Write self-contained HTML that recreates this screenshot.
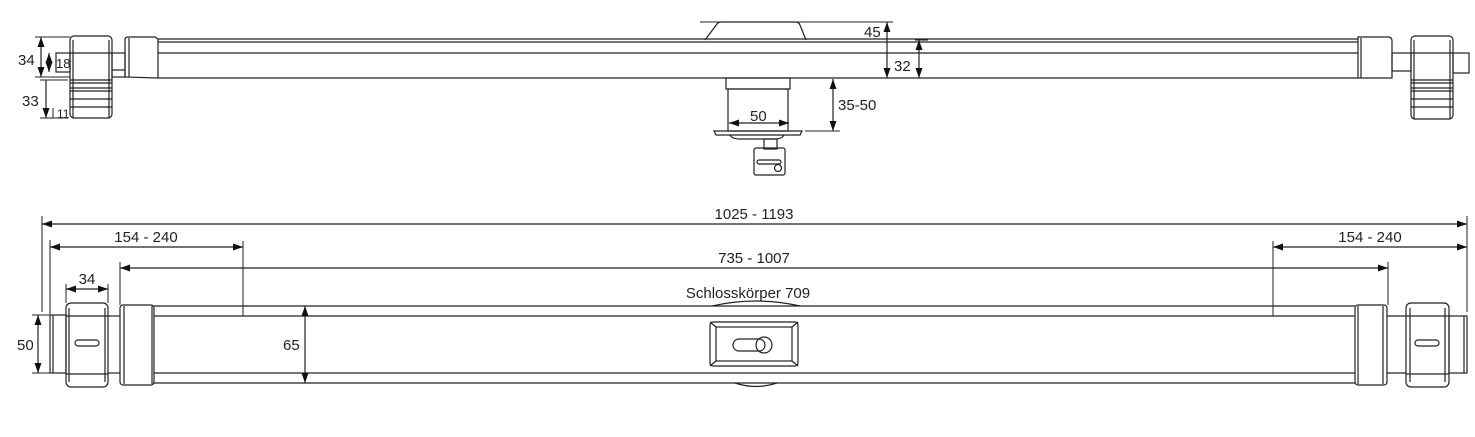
<!DOCTYPE html>
<html><head><meta charset="utf-8"><style>
html,body{margin:0;padding:0;background:#fff;}
svg{display:block}
text{font-family:"Liberation Sans",sans-serif;font-size:15px;fill:#222}
</style></head><body>
<svg width="1475" height="437" viewBox="0 0 1475 437" xmlns="http://www.w3.org/2000/svg">
<defs>
<marker id="a" viewBox="0 0 10 10" refX="10" refY="5" markerWidth="10" markerHeight="10" markerUnits="userSpaceOnUse" orient="auto-start-reverse"><path d="M0,1.5L10,5L0,8.5z" fill="#111"/></marker>
</defs>
<g fill="none" stroke="#222" stroke-width="1.2">
<!-- TOP VIEW -->
<!-- rod -->
<line x1="158" y1="39" x2="1358" y2="39"/><line x1="158" y1="42" x2="1358" y2="42"/>
<line x1="158" y1="53" x2="1358" y2="53"/><line x1="158" y1="78" x2="1358" y2="78"/>
<!-- center hump -->
<path d="M705,40 L717,24 Q718,22 722,22 L795,22 Q799,22 800,25 L806,40"/>
<!-- left end -->
<rect x="70" y="36" width="42" height="82" rx="4"/>
<line x1="73" y1="40" x2="73" y2="118"/><line x1="109" y1="40" x2="109" y2="118"/>
<line x1="70" y1="53" x2="112" y2="53"/>
<line x1="70" y1="80" x2="112" y2="80"/><line x1="70" y1="83" x2="112" y2="83"/><line x1="70" y1="88" x2="112" y2="88"/><line x1="70" y1="91" x2="112" y2="91"/><line x1="70" y1="99" x2="112" y2="99"/><line x1="70" y1="107" x2="112" y2="107"/>
<rect x="112" y="53" width="13" height="24"/>
<line x1="112" y1="70" x2="125" y2="70"/>
<path d="M125,77 L125,40 Q125,37 128,37 L155,37 L158,39 L158,78 Z"/>
<line x1="129" y1="38" x2="129" y2="77"/>
<rect x="56" y="53" width="14" height="19"/>
<!-- right end -->
<path d="M1358,78 L1358,37 L1388,37 Q1392,37 1392,41 L1392,78 Z"/>
<line x1="1361" y1="38" x2="1361" y2="78"/>
<rect x="1392" y="53" width="19" height="18"/>
<rect x="1411" y="36" width="42" height="83" rx="4"/>
<line x1="1414" y1="40" x2="1414" y2="119"/><line x1="1450" y1="40" x2="1450" y2="119"/>
<line x1="1411" y1="53" x2="1453" y2="53"/>
<line x1="1411" y1="80" x2="1453" y2="80"/><line x1="1411" y1="83" x2="1453" y2="83"/><line x1="1411" y1="88" x2="1453" y2="88"/><line x1="1411" y1="91" x2="1453" y2="91"/><line x1="1411" y1="99" x2="1453" y2="99"/><line x1="1411" y1="107" x2="1453" y2="107"/>
<rect x="1453" y="53" width="16" height="20"/>
<!-- cylinder under -->
<rect x="726" y="78" width="64" height="11"/>
<rect x="728" y="89" width="60" height="42"/>
<path d="M714,131 L802,131 L800,135 L716,135 Z"/>
<path d="M730,135 Q732,139 740,139 L775,139 Q782,139 784,135"/>
<rect x="764" y="139" width="13" height="10"/>
<rect x="754" y="148" width="31" height="27" rx="2"/>
<rect x="757" y="160" width="24" height="4" rx="2"/>
<circle cx="778" cy="168" r="3.5"/>
<!-- top dims -->
<line x1="700" y1="22" x2="893" y2="22" stroke-width="1"/>
<line x1="850" y1="78" x2="935" y2="78" stroke-width="1"/>
<line x1="915" y1="40" x2="928" y2="40" stroke-width="1"/>
<line x1="887" y1="22" x2="887" y2="78" marker-start="url(#a)" marker-end="url(#a)"/>
<line x1="919" y1="40" x2="919" y2="78" marker-start="url(#a)" marker-end="url(#a)"/>
<line x1="805" y1="131" x2="840" y2="131" stroke-width="1"/>
<line x1="833" y1="79" x2="833" y2="131" marker-start="url(#a)" marker-end="url(#a)"/>
<line x1="729" y1="123" x2="789" y2="123" marker-start="url(#a)" marker-end="url(#a)"/>
<line x1="35" y1="37" x2="70" y2="37" stroke-width="1"/>
<line x1="35" y1="77" x2="70" y2="77" stroke-width="1"/>
<line x1="40" y1="80" x2="68" y2="80" stroke-width="1"/>
<line x1="41" y1="37" x2="41" y2="77" marker-start="url(#a)" marker-end="url(#a)"/>
<line x1="49" y1="53" x2="49" y2="72" marker-start="url(#a)" marker-end="url(#a)"/>
<line x1="46" y1="80" x2="46" y2="118" marker-end="url(#a)"/>
<line x1="53" y1="108" x2="53" y2="118" stroke-width="1"/>
<line x1="40" y1="118" x2="68" y2="118" stroke-width="1"/>
<!-- BOTTOM VIEW -->
<line x1="154" y1="306" x2="1355" y2="306"/><line x1="154" y1="316" x2="1355" y2="316"/>
<line x1="154" y1="373" x2="1355" y2="373"/><line x1="154" y1="383" x2="1355" y2="383"/>
<path d="M712,306 Q756,296 800,306"/><path d="M735,383 Q756,390 777,383"/>
<!-- left -->
<rect x="50" y="315" width="16" height="58"/><line x1="53" y1="315" x2="53" y2="373"/>
<rect x="66" y="303" width="42" height="84" rx="5"/>
<line x1="69" y1="308" x2="69" y2="382"/><line x1="105" y1="308" x2="105" y2="382"/>
<line x1="66" y1="316" x2="108" y2="316"/><line x1="66" y1="374" x2="108" y2="374"/>
<rect x="75" y="340" width="24" height="6" rx="3"/>
<line x1="108" y1="316" x2="120" y2="316"/><line x1="108" y1="373" x2="120" y2="373"/>
<rect x="120" y="305" width="34" height="80" rx="3"/><line x1="124" y1="306" x2="124" y2="384"/><line x1="152" y1="306" x2="152" y2="384"/>
<!-- right -->
<rect x="1355" y="305" width="32" height="80" rx="3"/><line x1="1358" y1="306" x2="1358" y2="384"/><line x1="1383" y1="306" x2="1383" y2="384"/>
<line x1="1387" y1="316" x2="1406" y2="316"/><line x1="1387" y1="373" x2="1406" y2="373"/>
<rect x="1406" y="303" width="43" height="84" rx="5"/>
<line x1="1410" y1="308" x2="1410" y2="382"/><line x1="1445" y1="308" x2="1445" y2="382"/>
<line x1="1406" y1="316" x2="1449" y2="316"/><line x1="1406" y1="374" x2="1449" y2="374"/>
<rect x="1415" y="340" width="24" height="6" rx="3"/>
<rect x="1449" y="316" width="18" height="57"/><line x1="1464" y1="316" x2="1464" y2="373"/>
<!-- lock -->
<rect x="710" y="322" width="88" height="44" rx="3"/>
<rect x="716" y="327" width="76" height="34"/>
<line x1="710" y1="322" x2="716" y2="327"/><line x1="798" y1="322" x2="792" y2="327"/><line x1="710" y1="366" x2="716" y2="361"/><line x1="798" y1="366" x2="792" y2="361"/>
<rect x="733" y="339" width="32" height="12" rx="6"/>
<circle cx="764" cy="345" r="8"/>
<!-- bottom dims -->
<line x1="42" y1="216" x2="42" y2="312" stroke-width="1"/>
<line x1="1467" y1="216" x2="1467" y2="312" stroke-width="1"/>
<line x1="42" y1="224" x2="1467" y2="224" marker-start="url(#a)" marker-end="url(#a)"/>
<line x1="50" y1="240" x2="50" y2="314" stroke-width="1"/>
<line x1="243" y1="241" x2="243" y2="316" stroke-width="1"/>
<line x1="50" y1="247" x2="243" y2="247" marker-start="url(#a)" marker-end="url(#a)"/>
<line x1="1273" y1="241" x2="1273" y2="316" stroke-width="1"/>
<line x1="1273" y1="247" x2="1467" y2="247" marker-start="url(#a)" marker-end="url(#a)"/>
<line x1="120" y1="262" x2="120" y2="305" stroke-width="1"/>
<line x1="1388" y1="262" x2="1388" y2="305" stroke-width="1"/>
<line x1="120" y1="268" x2="1388" y2="268" marker-start="url(#a)" marker-end="url(#a)"/>
<line x1="66" y1="284" x2="66" y2="303" stroke-width="1"/>
<line x1="108" y1="284" x2="108" y2="303" stroke-width="1"/>
<line x1="66" y1="289" x2="108" y2="289" marker-start="url(#a)" marker-end="url(#a)"/>
<line x1="32" y1="315" x2="50" y2="315" stroke-width="1"/><line x1="32" y1="373" x2="50" y2="373" stroke-width="1"/>
<line x1="38" y1="315" x2="38" y2="373" marker-start="url(#a)" marker-end="url(#a)"/>
<line x1="305" y1="306" x2="305" y2="383" marker-start="url(#a)" marker-end="url(#a)"/>
</g>
<g>
<text x="864" y="37">45</text>
<text x="894" y="71">32</text>
<text x="838" y="110">35-50</text>
<text x="750" y="121">50</text>
<text x="18" y="65">34</text>
<text x="56" y="68" style="font-size:13px">18</text>
<text x="22" y="106">33</text>
<text x="57" y="118" style="font-size:12px">11</text>
<text x="754" y="219" text-anchor="middle">1025 - 1193</text>
<text x="146" y="242" text-anchor="middle">154 - 240</text>
<text x="1370" y="242" text-anchor="middle">154 - 240</text>
<text x="754" y="263" text-anchor="middle">735 - 1007</text>
<text x="87" y="284" text-anchor="middle">34</text>
<text x="748" y="298" text-anchor="middle">Schlosskörper 709</text>
<text x="17" y="350">50</text>
<text x="283" y="350">65</text>
</g>
</svg>
</body></html>
